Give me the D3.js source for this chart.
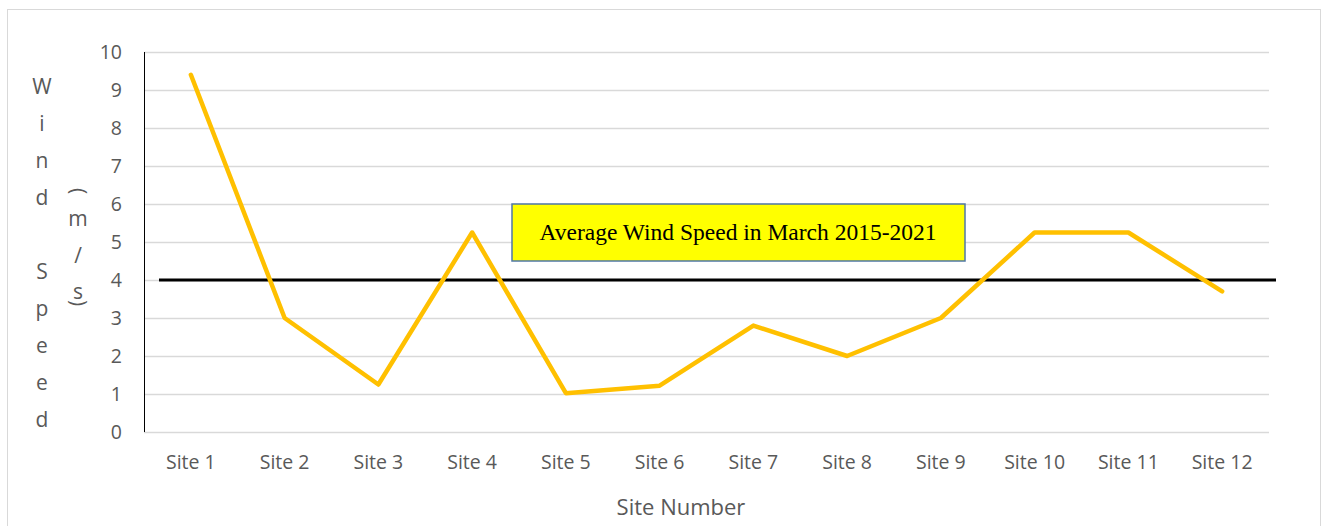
<!DOCTYPE html>
<html>
<head>
  <meta charset="utf-8">
  <title>Wind Speed</title>
  <script src="https://d3js.org/d3.v7.min.js"></script>
  <style>
    body { margin: 0; background: #fff; }
    text { font-family: "Open Sans", "Noto Sans", sans-serif; fill: #595959; }
  </style>
</head>
<body>
<div id="chart"></div>
<script>
  // data
  var sites = ["Site 1", "Site 2", "Site 3", "Site 4", "Site 5", "Site 6",
               "Site 7", "Site 8", "Site 9", "Site 10", "Site 11", "Site 12"];
  var windSpeed = [9.4, 3.0, 1.25, 5.25, 1.02, 1.22, 2.8, 2.0, 3.0, 5.25, 5.25, 3.7];
  var averageSpeed = 4;
  var yTicks = [0, 1, 2, 3, 4, 5, 6, 7, 8, 9, 10];
  var yLabelLetters = ["W", "i", "n", "d", "", "S", "p", "e", "e", "d"];
  var unitLetters = ["(", "m", "/", "s", ")"];

  var width = 1325, height = 526;
  var plotLeft = 144, plotRight = 1269, plotTop = 52, plotBottom = 432;

  var svg = d3.select("#chart").append("svg")
      .attr("width", width)
      .attr("height", height);

  // outer chart frame
  svg.append("rect")
      .attr("x", 7.5).attr("y", 9.5)
      .attr("width", 1313).attr("height", 530)
      .attr("fill", "none")
      .attr("stroke", "#d9d9d9");

  var x = d3.scaleBand().domain(sites).range([plotLeft, plotRight]);
  var y = d3.scaleLinear().domain([0, 10]).range([plotBottom, plotTop]);

  // gridlines
  svg.append("g")
    .selectAll("line")
    .data(yTicks)
    .enter().append("line")
      .attr("x1", plotLeft).attr("x2", plotRight)
      .attr("y1", function(d) { return Math.round(y(d)) + 0.5; })
      .attr("y2", function(d) { return Math.round(y(d)) + 0.5; })
      .attr("stroke", "#d9d9d9")
      .attr("stroke-width", 1.3);

  // y axis line
  svg.append("line")
      .attr("x1", plotLeft + 0.5).attr("x2", plotLeft + 0.5)
      .attr("y1", y(10)).attr("y2", y(0))
      .attr("stroke", "#000");

  // y tick labels
  svg.append("g")
    .selectAll("text")
    .data(yTicks)
    .enter().append("text")
      .attr("x", 122)
      .attr("y", function(d) { return y(d); })
      .attr("dy", "0.36em")
      .attr("text-anchor", "end")
      .style("font-size", "19.5px")
      .text(function(d) { return d; });

  // x tick labels
  svg.append("g")
    .selectAll("text")
    .data(sites)
    .enter().append("text")
      .attr("x", function(d) { return x(d) + x.bandwidth() / 2; })
      .attr("y", 469)
      .attr("text-anchor", "middle")
      .style("font-size", "19.5px")
      .text(function(d) { return d; });

  // axis titles
  svg.append("text")
      .attr("x", 681).attr("y", 515)
      .attr("text-anchor", "middle")
      .style("font-size", "22px")
      .text("Site Number");

  svg.append("g")
    .selectAll("text")
    .data(yLabelLetters)
    .enter().append("text")
      .attr("x", 42)
      .attr("y", function(d, i) { return 94 + i * 37; })
      .attr("text-anchor", "middle")
      .style("font-size", "21px")
      .text(function(d) { return d; });

  var unitY = [191, 219, 256, 292, 303];
  svg.append("g")
    .selectAll("text")
    .data(unitLetters)
    .enter().append("text")
      .attr("transform", function(d, i) {
        var t = "translate(78," + unitY[i] + ")";
        return (d === "(" || d === ")") ? t + " rotate(90)" : t;
      })
      .attr("text-anchor", "middle")
      .attr("dy", "0.35em")
      .style("font-size", "21px")
      .text(function(d) { return d; });

  // average line
  svg.append("line")
      .attr("x1", 159).attr("x2", 1276)
      .attr("y1", y(averageSpeed)).attr("y2", y(averageSpeed))
      .attr("stroke", "#000")
      .attr("stroke-width", 3);

  // wind speed series
  var line = d3.line()
      .x(function(d, i) { return x(sites[i]) + x.bandwidth() / 2; })
      .y(function(d) { return y(d); });

  svg.append("path")
      .datum(windSpeed)
      .attr("d", line)
      .attr("fill", "none")
      .attr("stroke", "#ffc000")
      .attr("stroke-width", 4.5)
      .attr("stroke-linejoin", "round")
      .attr("stroke-linecap", "round");

  // text box
  svg.append("rect")
      .attr("x", 512).attr("y", 204)
      .attr("width", 453).attr("height", 57)
      .attr("fill", "#ffff00")
      .attr("stroke", "#4f77a6")
      .attr("stroke-width", 1.5);

  svg.append("text")
      .attr("x", 738).attr("y", 240)
      .attr("text-anchor", "middle")
      .style("font-family", "'Liberation Serif', 'Times New Roman', serif")
      .style("font-size", "23.5px")
      .style("fill", "#000")
      .text("Average Wind Speed in March 2015-2021");
</script>
</body>
</html>
